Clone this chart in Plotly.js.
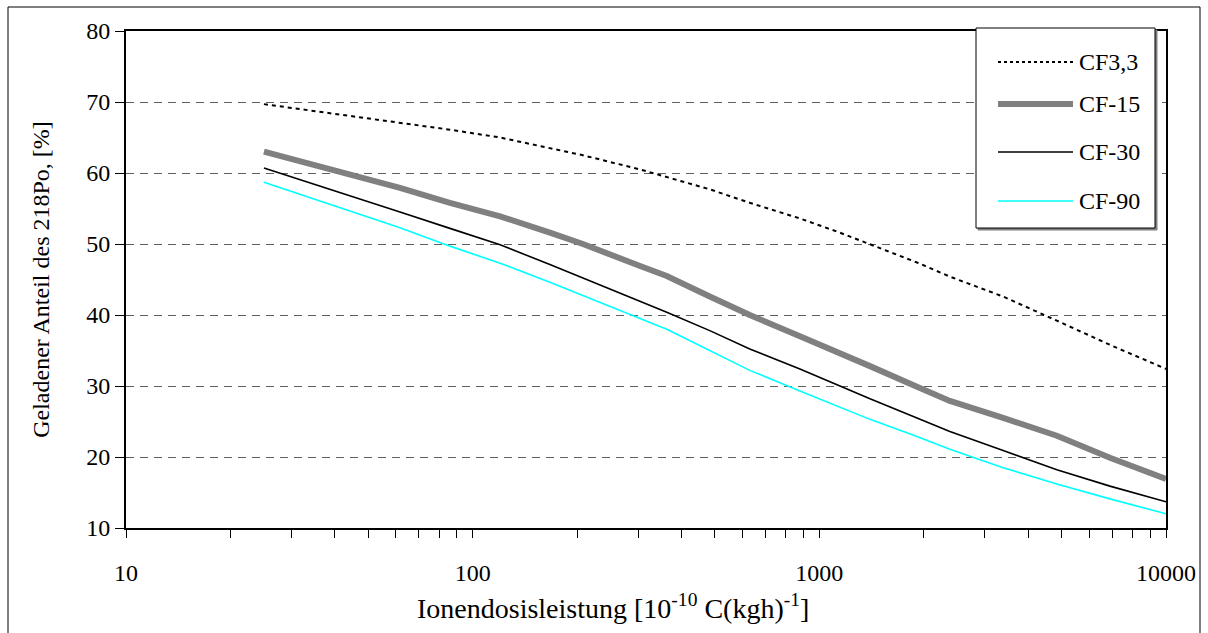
<!DOCTYPE html>
<html>
<head>
<meta charset="utf-8">
<script src="https://cdn.plot.ly/plotly-3.0.1.min.js"></script>
<style>html,body{margin:0;padding:0;background:#fff;}#chart{width:1208px;height:633px;}</style>
</head>
<body>
<div id="chart"></div>
<script>
// Ionendosisleistung [10^-10 C(kgh)^-1]
var doseRate = [25, 35.6, 44, 61.7, 86, 120, 167, 208, 304, 363, 483, 630, 879, 1146, 1400, 1913, 2380, 3390, 4843, 6890, 10000];

var cf33 = [69.7, 68.7, 68.0, 67.1, 66.1, 65.0, 63.5, 62.5, 60.5, 59.4, 57.7, 55.8, 53.6, 51.6, 50.0, 47.4, 45.4, 42.6, 39.2, 35.8, 32.4];
var cf15 = [63.0, 61.0, 59.8, 57.9, 55.8, 53.9, 51.6, 50.0, 46.9, 45.5, 42.6, 40.0, 37.0, 34.7, 32.8, 29.9, 27.9, 25.5, 23.0, 19.9, 16.9];
var cf30 = [60.7, 58.3, 56.8, 54.5, 52.2, 49.9, 47.1, 45.2, 42.0, 40.4, 37.8, 35.2, 32.4, 30.0, 28.2, 25.5, 23.6, 20.9, 18.2, 15.9, 13.7];
var cf90 = [58.7, 56.2, 54.7, 52.3, 49.7, 47.3, 44.6, 42.7, 39.5, 38.0, 35.0, 32.2, 29.3, 27.0, 25.3, 22.9, 21.1, 18.5, 16.2, 14.1, 12.0];

var seriesNames = ["CF3,3", "CF-15", "CF-30", "CF-90"];
var xTickVals = [10,20,30,40,50,60,70,80,90,100,200,300,400,500,600,700,800,900,1000,2000,3000,4000,5000,6000,7000,8000,9000,10000];
var xTickText = ["10","","","","","","","","","100","","","","","","","","","1000","","","","","","","","","10000"];
var yTickVals = [10, 20, 30, 40, 50, 60, 70, 80];
var xTitle = "Ionendosisleistung [10<sup>-10</sup> C(kgh)<sup>-1</sup>]";
var yTitle = "Geladener Anteil des 218Po, [%]";

var styles = [
  {color: "#000000", width: 2, dash: "4px,4px"},
  {color: "#808080", width: 6, dash: "solid"},
  {color: "#000000", width: 1.6, dash: "solid"},
  {color: "#00FFFF", width: 1.6, dash: "solid"}
];
var seriesData = [cf33, cf15, cf30, cf90];

var traces = seriesData.map(function (ys, i) {
  return {
    x: doseRate, y: ys, type: "scatter", mode: "lines", name: seriesNames[i],
    line: {color: styles[i].color, width: styles[i].width, dash: styles[i].dash},
    showlegend: false, hoverinfo: "skip"
  };
});

var W = 1208, H = 633;
var M = {l: 126, r: 42, t: 31, b: 105};
var pw = W - M.l - M.r, ph = H - M.t - M.b;
function px(x) { return (x - M.l) / pw; }
function py(y) { return 1 - (y - M.t) / ph; }

var font = "Liberation Serif, Times New Roman, serif";
var shapes = [];
var annotations = [];

// outer chart border
shapes.push({type: "rect", xref: "paper", yref: "paper", x0: px(8), x1: px(1200), y0: py(640), y1: py(7),
  line: {color: "#000", width: 1}, fillcolor: "rgba(0,0,0,0)", layer: "below"});

// legend box
var lg = {x0: 976, x1: 1155, y0: 28, y1: 228};
shapes.push({type: "rect", xref: "paper", yref: "paper", x0: px(lg.x0 + 2), x1: px(lg.x1 + 2), y0: py(lg.y1 + 2), y1: py(lg.y0 + 2),
  line: {color: "#808080", width: 1}, fillcolor: "#808080"});
shapes.push({type: "rect", xref: "paper", yref: "paper", x0: px(lg.x0), x1: px(lg.x1), y0: py(lg.y1), y1: py(lg.y0),
  line: {color: "#000", width: 1}, fillcolor: "#ffffff"});
var entryY = [62, 104, 152, 201];
seriesNames.forEach(function (nm, i) {
  shapes.push({type: "line", xref: "paper", yref: "paper", x0: px(998), x1: px(1073), y0: py(entryY[i]), y1: py(entryY[i]),
    line: {color: styles[i].color, width: styles[i].width, dash: i === 0 ? "3px,3px" : "solid"}});
  annotations.push({xref: "paper", yref: "paper", x: px(1077), y: py(entryY[i]), xanchor: "left", yanchor: "middle",
    text: nm, showarrow: false, font: {family: font, size: 24, color: "#000"}});
});

// x-axis title (placed like the original, centred on the chart area)
annotations.push({xref: "paper", yref: "paper", x: px(613), y: py(606), xanchor: "center", yanchor: "middle",
  text: xTitle, showarrow: false, font: {family: font, size: 28, color: "#000"}});

var layout = {
  width: W, height: H,
  margin: M,
  paper_bgcolor: "#fff", plot_bgcolor: "#fff",
  showlegend: false,
  font: {family: font, size: 24, color: "#000"},
  xaxis: {
    type: "log", range: [1, 4],
    tickmode: "array", tickvals: xTickVals, ticktext: xTickText,
    ticks: "outside", ticklen: 8, tickwidth: 1, tickcolor: "#000",
    ticklabelstandoff: 14,
    showgrid: false, zeroline: false,
    showline: true, linecolor: "#000", linewidth: 2, mirror: true,
    tickfont: {family: font, size: 24, color: "#000"}
  },
  yaxis: {
    range: [10, 80], tickmode: "array", tickvals: yTickVals,
    ticks: "outside", ticklen: 9, tickwidth: 1, tickcolor: "#000",
    showgrid: true, gridcolor: "#606060", gridwidth: 1, griddash: "8px,6px",
    zeroline: false,
    showline: true, linecolor: "#000", linewidth: 2, mirror: true,
    tickfont: {family: font, size: 24, color: "#000"},
    title: {text: yTitle, font: {family: font, size: 24, color: "#000"}, standoff: 30}
  },
  shapes: shapes,
  annotations: annotations
};

Plotly.newPlot("chart", traces, layout, {staticPlot: true, displayModeBar: false});
</script>
</body>
</html>
